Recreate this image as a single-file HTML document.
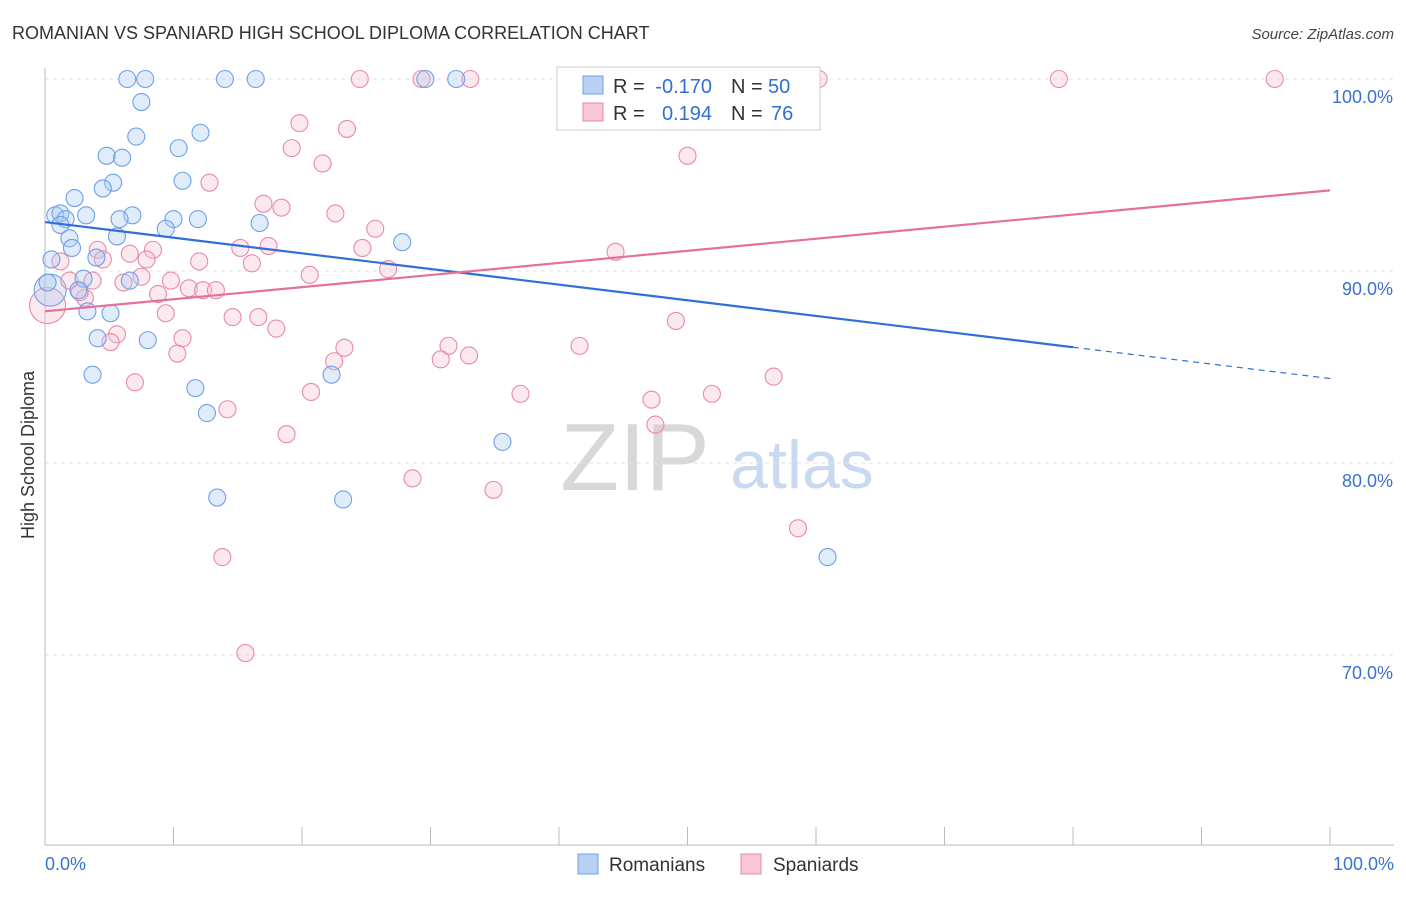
<!DOCTYPE html>
<html><head><meta charset="utf-8"><style>
body{margin:0;background:#fff;font-family:"Liberation Sans",sans-serif;}
svg text{font-family:"Liberation Sans",sans-serif;}
</style></head><body>
<svg id="chart" width="1406" height="892" xmlns="http://www.w3.org/2000/svg">
<text x="12" y="39" font-size="18" fill="#333">ROMANIAN VS SPANIARD HIGH SCHOOL DIPLOMA CORRELATION CHART</text>
<text x="1394" y="39" font-size="15" fill="#444" text-anchor="end" font-style="italic">Source: ZipAtlas.com</text>
<g>
<text x="635" y="490" font-size="96" fill="#d8d8d8" text-anchor="middle" font-family="Liberation Serif">ZIP</text>
<text x="802" y="488" font-size="68" fill="#c9d9f0" text-anchor="middle">atlas</text>
</g>
<g id="grid"></g>
<g id="axes"></g>
<g id="pts"></g>
<g id="trend"></g>
<text transform="translate(34,455) rotate(-90)" font-size="18" fill="#333" text-anchor="middle">High School Diploma</text>
<g font-size="20">
<rect x="557" y="67" width="263" height="63" fill="#fff" stroke="#ccc"/>
<rect x="583" y="76" width="20" height="18" fill="#b8d0f4" stroke="#6fa0e8"/>
<rect x="583" y="103" width="20" height="18" fill="#f9c6d6" stroke="#e88aa8"/>
<text x="613" y="93" fill="#333">R =</text>
<text x="712" y="93" fill="#2f6fd6" text-anchor="end">-0.170</text>
<text x="731" y="93" fill="#333">N =</text>
<text x="768" y="93" fill="#2f6fd6">50</text>
<text x="613" y="120" fill="#333">R =</text>
<text x="712" y="120" fill="#2f6fd6" text-anchor="end">0.194</text>
<text x="731" y="120" fill="#333">N =</text>
<text x="771" y="120" fill="#2f6fd6">76</text>
</g>
<g>
<rect x="578" y="854" width="20" height="20" fill="#b8d0f4" stroke="#6fa0e8"/>
<text x="609" y="871" font-size="19" fill="#333">Romanians</text>
<rect x="741" y="854" width="20" height="20" fill="#f9c6d6" stroke="#e88aa8"/>
<text x="773" y="871" font-size="19" fill="#333">Spaniards</text>
</g>
</svg>
<script>
const yTicks=[100,90,80,70];
const yTickLabels=["100.0%","90.0%","80.0%","70.0%"];
const blueX=[6.4,7.8,14.0,16.4,29.6,32.0,53.9,7.5,7.1,12.1,10.4,4.8,6.0,5.3,10.7,4.5,2.3,0.8,1.2,1.6,3.2,6.8,5.8,10.0,11.9,16.7,9.4,1.2,5.6,1.9,2.1,27.8,0.5,4.0,6.6,3.0,0.2,2.6,3.3,5.1,4.1,8.0,3.7,22.3,11.7,12.6,35.6,13.4,23.2,60.9];
const blueY=[100,100,100,100,100,100,100,98.8,97.0,97.2,96.4,96.0,95.9,94.6,94.7,94.3,93.8,92.9,93.0,92.7,92.9,92.9,92.7,92.7,92.7,92.5,92.2,92.4,91.8,91.7,91.2,91.5,90.6,90.7,89.5,89.6,89.4,89.0,87.9,87.8,86.5,86.4,84.6,84.6,83.9,82.6,81.1,78.2,78.1,75.1];
const pinkX=[24.5,29.3,33.1,40.7,49.1,60.2,78.9,95.7,19.8,23.5,19.2,21.6,50.0,12.8,17.0,18.4,22.6,25.7,4.1,8.4,15.2,17.4,24.7,44.4,6.6,4.5,7.9,12.0,16.1,1.2,26.7,20.6,7.5,1.9,3.7,6.1,9.8,11.2,12.3,13.3,8.8,3.1,2.7,9.4,14.6,16.6,18.0,49.1,5.6,5.1,10.7,10.3,23.3,31.4,41.6,30.8,33.0,22.5,7.0,20.7,56.7,37.0,47.2,51.9,14.2,47.5,18.8,28.6,34.9,58.6,13.8,15.6];
const pinkY=[100,100,100,100,100,100,100,100,97.7,97.4,96.4,95.6,96.0,94.6,93.5,93.3,93.0,92.2,91.1,91.1,91.2,91.3,91.2,91.0,90.9,90.6,90.6,90.5,90.4,90.5,90.1,89.8,89.7,89.5,89.5,89.4,89.5,89.1,89.0,89.0,88.8,88.6,88.9,87.8,87.6,87.6,87.0,87.4,86.7,86.3,86.5,85.7,86.0,86.1,86.1,85.4,85.6,85.3,84.2,83.7,84.5,83.6,83.3,83.6,82.8,82.0,81.5,79.2,78.6,76.6,75.1,70.1];
const bigBlue=[0.4,89.0];
const bigPink=[0.2,88.2];
const blueTrend=[92.55,84.4];
const pinkTrend=[87.9,94.2];
const blueSolidEnd=80;

const NS="http://www.w3.org/2000/svg";
const X=v=>45+v*12.85;
const Y=v=>79+(100-v)*19.2;
function mk(t,a,p){const e=document.createElementNS(NS,t);for(const k in a)e.setAttribute(k,a[k]);p.appendChild(e);return e;}
const grid=document.getElementById('grid'),axes=document.getElementById('axes'),pts=document.getElementById('pts'),trend=document.getElementById('trend');
yTicks.forEach((t,i)=>{
 const l=mk('line',{x1:45,x2:1394,y1:Y(t),y2:Y(t),stroke:'#e2e2e2','stroke-dasharray':'4,4'},grid);
 
 
 const tx=mk('text',{x:1393,y:Y(t)+24,'font-size':18,fill:'#3a72d0','text-anchor':'end'},grid);
 tx.textContent=yTickLabels[i];
 
 
});
mk('line',{x1:45,x2:45,y1:68,y2:845,stroke:'#bbb'},axes);
mk('line',{x1:45,x2:1394,y1:845,y2:845,stroke:'#bbb'},axes);
for(let i=0;i<=10;i++){const t=mk('line',{x1:X(i*10),x2:X(i*10),y1:827,y2:845,stroke:'#bbb'},axes);}
let a=mk('text',{x:45,y:870,'font-size':18,fill:'#3a72d0'},axes);a.textContent="0.0%";


a=mk('text',{x:1394,y:870,'font-size':18,fill:'#3a72d0','text-anchor':'end'},axes);a.textContent="100.0%";


function dot(x,y,r,c,name){const e=mk('circle',{cx:X(x),cy:Y(y),r:r,fill:c[0],'fill-opacity':0.35,stroke:c[1],'stroke-width':1.1},pts);
 
 }
const B=['#a9c8f2','#6fa0e8'],P=['#f7bfd1','#e88aa8'];
dot(bigPink[0],bigPink[1],18,P,'spaniard-point-large');
dot(bigBlue[0],bigBlue[1],16,B,'romanian-point-large');
pinkX.forEach((x,i)=>dot(x,pinkY[i],8.5,P,'spaniard-point'));
blueX.forEach((x,i)=>dot(x,blueY[i],8.5,B,'romanian-point'));
const by=x=>blueTrend[0]+(blueTrend[1]-blueTrend[0])*x/100;
let l=mk('line',{x1:X(0),y1:Y(by(0)),x2:X(blueSolidEnd),y2:Y(by(blueSolidEnd)),stroke:'#2f6fd6','stroke-width':2.2},trend);


l=mk('line',{x1:X(blueSolidEnd),y1:Y(by(blueSolidEnd)),x2:X(100),y2:Y(by(100)),stroke:'#2f6fd6','stroke-width':1.2,'stroke-dasharray':'6,5'},trend);


l=mk('line',{x1:X(0),y1:Y(pinkTrend[0]),x2:X(100),y2:Y(pinkTrend[1]),stroke:'#e5719a','stroke-width':2.2},trend);


</script>
</body></html>
